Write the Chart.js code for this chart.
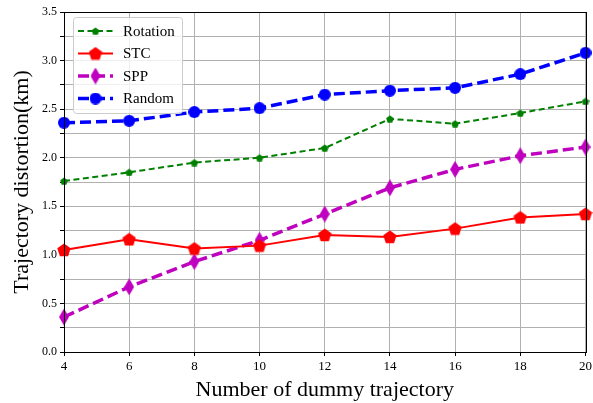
<!DOCTYPE html>
<html>
<head>
<meta charset="utf-8">
<script src="https://cdn.jsdelivr.net/npm/chart.js@4"></script>
<style>
  html, body { margin: 0; padding: 0; background: #fff; }
  #wrap { width: 593px; height: 403px; }
</style>
</head>
<body>
<div id="wrap"><canvas id="chart" width="593" height="403"></canvas></div>
<script>
// ===== data =====
const dummyCounts = [4, 6, 8, 10, 12, 14, 16, 18, 20];
const rotationValues = [1.76, 1.85, 1.95, 2.00, 2.10, 2.40, 2.35, 2.46, 2.58];
const stcValues = [1.05, 1.16, 1.065, 1.095, 1.205, 1.185, 1.27, 1.385, 1.42];
const sppValues = [0.36, 0.67, 0.93, 1.15, 1.42, 1.69, 1.88, 2.02, 2.11];
const randomValues = [2.36, 2.38, 2.47, 2.51, 2.65, 2.69, 2.72, 2.86, 3.08];
const seriesNames = ["Rotation", "STC", "SPP", "Random"];
const yTicks = [0, 0.5, 1.0, 1.5, 2.0, 2.5, 3.0, 3.5];

const serif = "'Liberation Serif', 'Times New Roman', serif";

// small canvas markers (matplotlib style)
function makeMarker(shape, w, h, color) {
  const c = document.createElement('canvas');
  c.width = w; c.height = h;
  const g = c.getContext('2d');
  g.fillStyle = color;
  g.beginPath();
  if (shape == 'circle') {
    g.arc(w / 2, h / 2, w / 2, 0, Math.PI * 2);
  } else if (shape == 'pentagon') {
    const r = w / 2;
    for (let i = 0; i < 5; i++) {
      const a = -Math.PI / 2 + i * 2 * Math.PI / 5;
      const px = w / 2 + r * Math.cos(a), py = h / 2 + 0.5 + r * Math.sin(a);
      if (i == 0) g.moveTo(px, py); else g.lineTo(px, py);
    }
  } else if (shape == 'thindiamond') {
    g.moveTo(w / 2, 0);
    g.lineTo(w, h / 2);
    g.lineTo(w / 2, h);
    g.lineTo(0, h / 2);
  }
  g.closePath();
  g.fill();
  return c;
}

const markers = [
  makeMarker('pentagon', 8, 8, '#008000'),
  makeMarker('pentagon', 14, 14, '#ff0000'),
  makeMarker('thindiamond', 10, 17, '#bf00bf'),
  makeMarker('circle', 12, 12, '#0000ff')
];
const colors = ['#008000', '#ff0000', '#bf00bf', '#0000ff'];
const widths = [2, 2, 3.5, 3.5];
const dashes = [[6, 3.5], [], [11, 5], [11, 5]];
const allValues = [rotationValues, stcValues, sppValues, randomValues];

const datasets = seriesNames.map((name, i) => ({
  label: name,
  data: dummyCounts.map((x, k) => ({ x: x, y: allValues[i][k] })),
  borderColor: colors[i],
  backgroundColor: colors[i],
  borderWidth: widths[i],
  borderDash: dashes[i],
  pointStyle: markers[i],
  tension: 0,
  clip: false
}));

//=========== frame + legend inside the plot =========
const framePlugin = {
  id: 'frame',
  afterDraw(chart) {
    const { ctx, chartArea: a } = chart;
    ctx.save();
    ctx.strokeStyle = '#000';
    ctx.lineWidth = 1;
    ctx.strokeRect(Math.round(a.left) + 0.5, Math.round(a.top) + 0.5,
      Math.round(a.right - a.left), Math.round(a.bottom - a.top));

    // legend box
    const bx = a.left + 9, by = a.top + 5, bw = 109, bh = 96;
    ctx.fillStyle = 'rgba(255,255,255,0.8)';
    ctx.strokeStyle = '#cccccc';
    ctx.beginPath();
    ctx.roundRect(bx + 0.5, by + 0.5, bw, bh, 3);
    ctx.fill();
    ctx.stroke();

    ctx.font = '15px ' + serif;
    ctx.textBaseline = 'middle';
    chart.data.datasets.forEach((ds, i) => {
      const y = by + 14 + i * 22.5;
      ctx.strokeStyle = ds.borderColor;
      ctx.lineWidth = ds.borderWidth;
      ctx.setLineDash(ds.borderDash);
      ctx.beginPath();
      ctx.moveTo(bx + 5, y);
      ctx.lineTo(bx + 40, y);
      ctx.stroke();
      ctx.setLineDash([]);
      const m = ds.pointStyle;
      ctx.drawImage(m, bx + 22.5 - m.width / 2, y - m.height / 2);
      ctx.fillStyle = '#000';
      ctx.fillText(ds.label, bx + 50, y + 1);
    });
    ctx.restore();
  }
};

new Chart(document.getElementById('chart'), {
  type: 'line',
  data: { datasets: datasets },
  options: {
    responsive: false,
    animation: false,
    layout: { padding: { top: 12, right: 0, left: 0, bottom: 0 } },
    plugins: { legend: { display: false }, tooltip: { enabled: false } },
    scales: {
      x: {
        type: 'linear',
        min: 4, max: 20,
        ticks: { stepSize: 2, color: '#000', font: { family: serif, size: 13 }, padding: 3, maxRotation: 0 },
        grid: { color: '#b0b0b0', lineWidth: 1, tickColor: '#000', tickLength: 4 },
        border: { color: '#000' },
        title: { display: true, text: 'Number of dummy trajectory', color: '#000', font: { family: serif, size: 22 }, padding: { top: 1, bottom: 0 } },
        afterFit(scale) { scale.height = 51; scale.paddingRight = 6; }
      },
      y: {
        min: 0, max: 3.5,
        ticks: {
          stepSize: 0.25, color: '#000', font: { family: serif, size: 12 }, padding: 3,
          callback: v => yTicks.includes(v) ? v.toFixed(1) : ''
        },
        grid: { color: '#b0b0b0', lineWidth: 1, tickColor: '#000', tickLength: 4 },
        border: { color: '#000' },
        title: { display: true, text: 'Trajectory distortion(km)', color: '#000', font: { family: serif, size: 22 }, padding: { top: 9, bottom: 0 } },
        afterFit(scale) { scale.width = 64; }
      }
    }
  },
  plugins: [framePlugin]
});
</script>
</body>
</html>
